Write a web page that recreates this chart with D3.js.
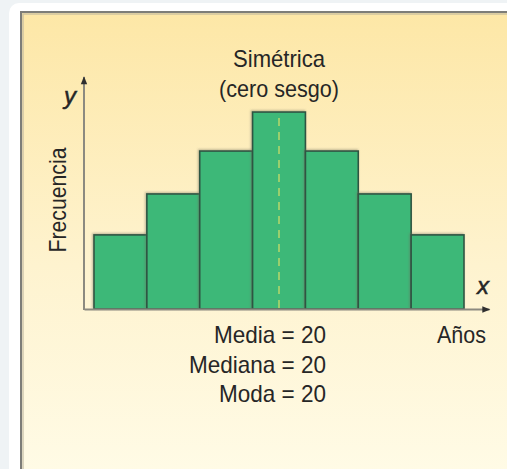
<!DOCTYPE html>
<html>
<head>
<meta charset="utf-8">
<script src="https://cdn.jsdelivr.net/npm/d3@7"></script>
<style>
  html, body { margin: 0; padding: 0; background: #eff3f5; }
  svg { display: block; }
  text { font-family: "Liberation Sans", Arial, Helvetica, sans-serif; fill: #262626; }
</style>
</head>
<body>
<svg id="chart" width="507" height="469"></svg>
<script>
// Class midpoints (años) and their frequencies for a symmetric distribution
const ageBins = [5, 10, 15, 20, 25, 30, 35];
const frequencies = [1.9, 2.95, 4.05, 5.05, 4.05, 2.95, 1.9];
const binWidth = 5;

// Summary statistics shown under the axis
const statNames = ["Media", "Mediana", "Moda"];
const statValues = [20, 20, 20];

// Title lines and axis labels
const titleLines = ["Simétrica", "(cero sesgo)"];
const xAxisLabel = "Años";
const yAxisLabel = "Frecuencia";

const svg = d3.select("#chart");
const W = 507, H = 469;
const FS = 24; // label size; widths are condensed with textLength

// ---- card and panel background ----
const defs = svg.append("defs");
const grad = defs.append("linearGradient")
  .attr("id", "panelGrad").attr("x1", 0).attr("y1", 0).attr("x2", 0).attr("y2", 1);
grad.append("stop").attr("offset", "0%").attr("stop-color", "#fde7a6");
grad.append("stop").attr("offset", "55%").attr("stop-color", "#fef3cf");
grad.append("stop").attr("offset", "100%").attr("stop-color", "#fffbe6");

const shadow = defs.append("filter").attr("id", "barShadow")
  .attr("x", "-10%").attr("y", "-10%").attr("width", "120%").attr("height", "120%");
shadow.append("feDropShadow")
  .attr("dx", -1).attr("dy", -1).attr("stdDeviation", 1)
  .attr("flood-color", "#6b6b5a").attr("flood-opacity", 0.45);

svg.append("rect")
  .attr("x", 9).attr("y", 3).attr("width", W + 20).attr("height", H + 20)
  .attr("rx", 10).attr("fill", "#ffffff");

const panel = { x: 20, y: 11 };
svg.append("rect")
  .attr("x", panel.x).attr("y", panel.y)
  .attr("width", W - panel.x + 5).attr("height", H - panel.y + 5)
  .attr("fill", "url(#panelGrad)");
// bevelled top/left edge
svg.append("path")
  .attr("d", `M${panel.x + 1},${H} V${panel.y + 1} H${W}`)
  .attr("fill", "none").attr("stroke", "#7d7d78").attr("stroke-width", 2);
svg.append("path")
  .attr("d", `M${panel.x + 3},${H} V${panel.y + 3} H${W}`)
  .attr("fill", "none").attr("stroke", "#b9b39c").attr("stroke-width", 1.5).attr("opacity", 0.7);

// ---- scales ----
const x = d3.scaleLinear()
  .domain([ageBins[0] - binWidth / 2, ageBins[ageBins.length - 1] + binWidth / 2])
  .range([94, 464]);
const y = d3.scaleLinear().domain([0, 6]).range([309, 75]);

const originX = 84;
const baseY = y(0);

// ---- arrowhead marker ----
defs.append("marker")
  .attr("id", "arrow").attr("viewBox", "0 0 10 10")
  .attr("refX", 9).attr("refY", 5)
  .attr("markerWidth", 10).attr("markerHeight", 8)
  .attr("markerUnits", "userSpaceOnUse")
  .attr("orient", "auto")
  .append("path").attr("d", "M0,1 L10,5 L0,9 Z").attr("fill", "#2f2f2f");

// ---- bars ----
const bars = ageBins.map((c, i) => ({ c, f: frequencies[i] }));
svg.append("g").selectAll("rect")
  .data(bars).join("rect")
  .attr("x", d => x(d.c - binWidth / 2))
  .attr("y", d => y(d.f))
  .attr("width", d => x(d.c + binWidth / 2) - x(d.c - binWidth / 2))
  .attr("height", d => baseY - y(d.f))
  .attr("fill", "#3cb878")
  .attr("stroke", "#2f5543")
  .attr("stroke-width", 1.6)
  .attr("filter", "url(#barShadow)");

// dashed line at the centre of symmetry (mean = median = mode)
const centre = statValues[0];
const peak = d3.max(frequencies);
svg.append("line")
  .attr("x1", x(centre)).attr("x2", x(centre))
  .attr("y1", y(peak) + 6).attr("y2", baseY - 1)
  .attr("stroke", "#b8d66a").attr("stroke-width", 1.5)
  .attr("stroke-dasharray", "8,6");

// ---- axes ----
const xAxisScale = d3.scaleLinear().domain(x.domain()).range([originX, 489]);
svg.append("g")
  .attr("transform", `translate(0,${baseY})`)
  .call(d3.axisBottom(xAxisScale).ticks(0).tickSizeOuter(0))
  .call(g => g.select(".domain")
    .attr("stroke", "#8c8a80").attr("stroke-width", 2)
    .attr("marker-end", "url(#arrow)"));

const yAxisScale = d3.scaleLinear().domain(y.domain()).range([baseY, 77]);
svg.append("g")
  .attr("transform", `translate(${originX},0)`)
  .call(d3.axisLeft(yAxisScale).ticks(0).tickSizeOuter(0))
  .call(g => g.select(".domain")
    .attr("d", `M0,${baseY + 1}V77`)
    .attr("stroke", "#8c8a80").attr("stroke-width", 2)
    .attr("marker-end", "url(#arrow)"));

// axis letters
svg.append("text").text("y")
  .attr("x", 70).attr("y", 104).attr("text-anchor", "middle")
  .attr("font-size", FS).attr("font-style", "italic")
  .attr("stroke", "#262626").attr("stroke-width", 0.5);
svg.append("text").text("x")
  .attr("x", 483).attr("y", 294).attr("text-anchor", "middle")
  .attr("font-size", FS).attr("font-style", "italic")
  .attr("stroke", "#262626").attr("stroke-width", 0.5);

// axis titles
svg.append("text").text(yAxisLabel)
  .attr("transform", `translate(66,${200}) rotate(-90)`)
  .attr("text-anchor", "middle").attr("font-size", FS)
  .attr("textLength", 105).attr("lengthAdjust", "spacingAndGlyphs");
svg.append("text").text(xAxisLabel)
  .attr("x", 486).attr("y", 343).attr("text-anchor", "end")
  .attr("font-size", FS)
  .attr("textLength", 49).attr("lengthAdjust", "spacingAndGlyphs");

// title
const titleWidths = [92, 120];
svg.append("g").selectAll("text")
  .data(titleLines).join("text")
  .text(d => d)
  .attr("x", x(centre)).attr("y", (d, i) => 67 + i * 30)
  .attr("text-anchor", "middle").attr("font-size", FS)
  .attr("textLength", (d, i) => titleWidths[i])
  .attr("lengthAdjust", "spacingAndGlyphs");

// summary statistics, right-aligned
const statWidths = [112, 137, 107];
svg.append("g").selectAll("text")
  .data(statNames).join("text")
  .text((d, i) => `${d} = ${statValues[i]}`)
  .attr("x", 326).attr("y", (d, i) => 343 + i * 29.5)
  .attr("text-anchor", "end").attr("font-size", FS)
  .attr("textLength", (d, i) => statWidths[i])
  .attr("lengthAdjust", "spacingAndGlyphs");
</script>
</body>
</html>
